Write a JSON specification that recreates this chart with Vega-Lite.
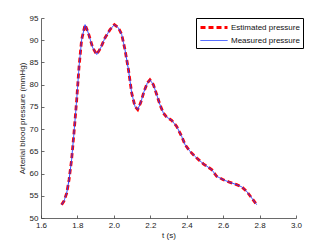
{
  "$schema": "https://vega.github.io/schema/vega-lite/v6.json",
  "width": 255,
  "height": 200,
  "autosize": "none",
  "padding": {"left": 41, "top": 18, "right": 31, "bottom": 28},
  "background": "white",
  "config": {
    "view": {"stroke": null},
    "font": "Liberation Sans",
    "axis": {"grid": false, "domainColor": "#444", "tickColor": "#444", "labelColor": "#222", "titleColor": "#222", "labelFontSize": 8, "titleFontSize": 8, "titleFontWeight": "normal", "tickSize": -3, "domainWidth": 0.8, "tickWidth": 0.8},
    "legend": {"title": null, "orient": "none", "legendX": 155, "legendY": 0, "strokeColor": "black", "fillColor": "white", "padding": 3, "symbolType": "M-1,0L4.4,0", "symbolSize": 100, "labelFontSize": 8, "labelColor": "#111", "rowPadding": 1, "labelOffset": 19}
  },
  "datasets": {
    "pts": [
      {"t": 1.713, "p": 53.0}, {"t": 1.726, "p": 53.8}, {"t": 1.741, "p": 55.6}, {"t": 1.754, "p": 58.6},
      {"t": 1.768, "p": 63.1}, {"t": 1.781, "p": 69.1}, {"t": 1.796, "p": 76.6}, {"t": 1.809, "p": 84.1},
      {"t": 1.823, "p": 90.1}, {"t": 1.842, "p": 93.5}, {"t": 1.860, "p": 91.6}, {"t": 1.884, "p": 88.3},
      {"t": 1.906, "p": 86.8}, {"t": 1.928, "p": 88.3}, {"t": 1.951, "p": 90.5}, {"t": 1.979, "p": 92.4},
      {"t": 2.003, "p": 93.5}, {"t": 2.025, "p": 92.8}, {"t": 2.043, "p": 91.3}, {"t": 2.061, "p": 87.9},
      {"t": 2.080, "p": 83.4}, {"t": 2.098, "p": 78.1}, {"t": 2.116, "p": 75.1}, {"t": 2.131, "p": 74.4},
      {"t": 2.147, "p": 75.9}, {"t": 2.166, "p": 78.5}, {"t": 2.184, "p": 80.4}, {"t": 2.198, "p": 81.1},
      {"t": 2.217, "p": 80.0}, {"t": 2.235, "p": 77.8}, {"t": 2.253, "p": 75.5}, {"t": 2.272, "p": 73.6},
      {"t": 2.290, "p": 72.7}, {"t": 2.317, "p": 72.0}, {"t": 2.345, "p": 70.6}, {"t": 2.372, "p": 68.4},
      {"t": 2.391, "p": 66.5}, {"t": 2.418, "p": 65.0}, {"t": 2.455, "p": 63.5}, {"t": 2.491, "p": 62.2},
      {"t": 2.537, "p": 60.9}, {"t": 2.564, "p": 59.4}, {"t": 2.601, "p": 58.6}, {"t": 2.638, "p": 58.0},
      {"t": 2.674, "p": 57.5}, {"t": 2.702, "p": 57.0}, {"t": 2.729, "p": 56.0}, {"t": 2.757, "p": 54.5},
      {"t": 2.784, "p": 53.0}
    ]
  },
  "data": {"name": "pts"},
  "transform": [
    {"fold": ["Estimated pressure", "Measured pressure"], "as": ["series", "dummy"]}
  ],
  "mark": {"type": "line", "clip": true},
  "encoding": {
    "x": {"field": "t", "type": "quantitative", "title": "t (s)",
      "scale": {"domain": [1.6, 3], "nice": false, "zero": false},
      "axis": {"values": [1.6, 1.8, 2, 2.2, 2.4, 2.6, 2.8, 3], "labelPadding": 6, "titlePadding": 2, "labelFlush": false}},
    "y": {"field": "p", "type": "quantitative", "title": "Arterial blood pressure (mmHg)",
      "scale": {"domain": [50, 95], "nice": false, "zero": false},
      "axis": {"values": [50, 55, 60, 65, 70, 75, 80, 85, 90, 95], "labelPadding": 6, "titlePadding": 3, "labelFlush": false}},
    "color": {"field": "series", "type": "nominal",
      "scale": {"domain": ["Estimated pressure", "Measured pressure"], "range": ["#ff0000", "#2040ff"]}},
    "strokeDash": {"field": "series", "type": "nominal",
      "scale": {"domain": ["Estimated pressure", "Measured pressure"], "range": [[5, 3], [1, 0]]}},
    "strokeWidth": {"field": "series", "type": "nominal",
      "scale": {"domain": ["Estimated pressure", "Measured pressure"], "range": [2.8, 1]}}
  }
}
